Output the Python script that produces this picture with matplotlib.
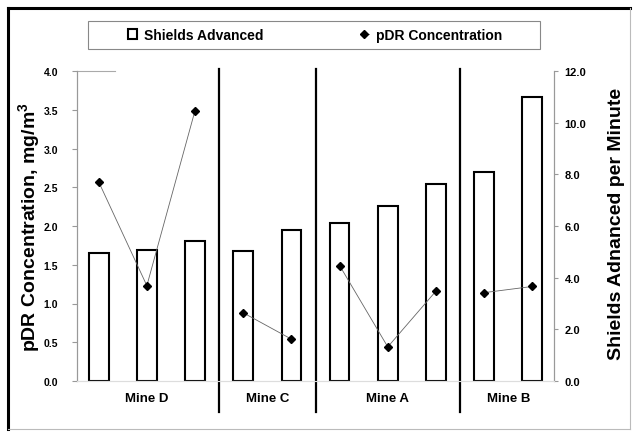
import matplotlib
matplotlib.use("Agg")
import numpy as np
from matplotlib import pyplot as plt
from matplotlib.lines import Line2D
from matplotlib.patches import Rectangle

plt.rcParams['font.family'] = ['Liberation Sans', 'DejaVu Sans']

mines = ["Mine D", "Mine C", "Mine A", "Mine B"]
group_sizes = [3, 2, 3, 2]

# shields advanced per minute (right axis)
shields = [4.95, 5.08, 5.43, 5.04, 5.85, 6.1, 6.78, 7.63, 8.09, 10.99]
# pDR concentration, mg/m3 (left axis)
pdr = [2.57, 1.23, 3.49, 0.88, 0.54, 1.49, 0.44, 1.16, 1.14, 1.22]

left_ticks = [0.0, 0.5, 1.0, 1.5, 2.0, 2.5, 3.0, 3.5, 4.0]
right_ticks = [0.0, 2.0, 4.0, 6.0, 8.0, 10.0, 12.0]

fig = plt.figure(figsize=(6.36, 4.35), dpi=100)
ax = fig.add_axes([77/636, 53/435, 477/636, 310/435])
ax2 = ax.twinx()

x = np.arange(len(shields))
bars = ax2.bar(x, shields, width=0.41, color="white", edgecolor="black",
               linewidth=1.5, label="Shields Advanced")

# pDR line, broken between mines
start = 0
pts = None
for n in group_sizes:
    xs = x[start:start + n]
    ys = pdr[start:start + n]
    l, = ax.plot(xs, ys, color="#666666", linewidth=0.6, marker="D",
                 markersize=4, markerfacecolor="black", markeredgecolor="black",
                 label="pDR Concentration")
    if pts is None:
        pts = l
    start += n

ax.set_zorder(ax2.get_zorder() + 1)
ax.patch.set_visible(False)

# separators between mines
edges = np.cumsum(group_sizes)[:-1] - 0.5
for e in edges:
    ax.axvline(e, ymin=-0.1, ymax=1.006, color="black", linewidth=1.6, clip_on=False)

# bit of top gridline left over near the axis
ax.axhline(4.0, xmin=0, xmax=0.08, color="#aaaaaa", linewidth=0.8, clip_on=False)

ax.set_xlim(-0.45, 9.45)
ax.set_ylim(0, 4.0)
ax2.set_ylim(0, 12.0)

centers = []
start = 0
for n in group_sizes:
    centers.append(start + (n - 1) / 2)
    start += n
ax.set_xticks(centers)
ax.set_xticklabels(mines, fontsize=9.5, fontweight="bold")
ax.tick_params(axis="x", length=0, pad=8)

ax.set_yticks(left_ticks)
ax.set_yticklabels([f"{v:.1f}" for v in left_ticks], fontsize=7.5, fontweight="bold")
ax2.set_yticks(right_ticks)
ax2.set_yticklabels([f"{v:.1f}" for v in right_ticks], fontsize=8, fontweight="bold")
ax.tick_params(axis="y", length=3.5, color="#999999", pad=10)
ax2.tick_params(axis="y", length=3, color="#999999", pad=4.5)

for a in (ax, ax2):
    a.spines["top"].set_visible(False)
    a.spines["left"].set_color("#999999")
    a.spines["right"].set_color("#999999")
    a.spines["bottom"].set_color("#dddddd")
    a.spines["left"].set_linewidth(0.8)
    a.spines["right"].set_linewidth(0.8)

ax.set_ylabel("pDR Concentration, mg/m$^\\mathregular{3}$", fontsize=14,
              fontweight="bold")
ax.yaxis.set_label_coords(-0.071, 0.5)
ax2.set_ylabel("Shields Adnanced per Minute", fontsize=14, fontweight="bold")
ax2.yaxis.set_label_coords(1.113, 0.51)

# legend box
fig.patches.append(Rectangle((88/636, 385/435), 452/636, 28/435,
                             transform=fig.transFigure, fill=False,
                             edgecolor="#888888", linewidth=0.8))
fig.legend([bars, pts], ["Shields Advanced", "pDR Concentration"],
           loc="center", bbox_to_anchor=(128/636, 385/435, 374/636, 28/435),
           mode="expand", ncol=2, frameon=False, handlelength=0.65,
           handleheight=0.65, handletextpad=0.5,
           prop={"size": 10, "weight": "bold"},
           borderaxespad=0, borderpad=0)

# outer frame
fig.lines.append(Line2D([8/636, 8/636], [5/435, 426/435], transform=fig.transFigure,
                        color="black", linewidth=2.2))
fig.lines.append(Line2D([8/636, 630/636], [426/435, 426/435], transform=fig.transFigure,
                        color="black", linewidth=2.2))
fig.lines.append(Line2D([630/636, 630/636], [5/435, 426/435], transform=fig.transFigure,
                        color="#bbbbbb", linewidth=0.8))
fig.lines.append(Line2D([8/636, 630/636], [5/435, 5/435], transform=fig.transFigure,
                        color="#bbbbbb", linewidth=0.8))

fig.savefig("out.png", dpi=100)
